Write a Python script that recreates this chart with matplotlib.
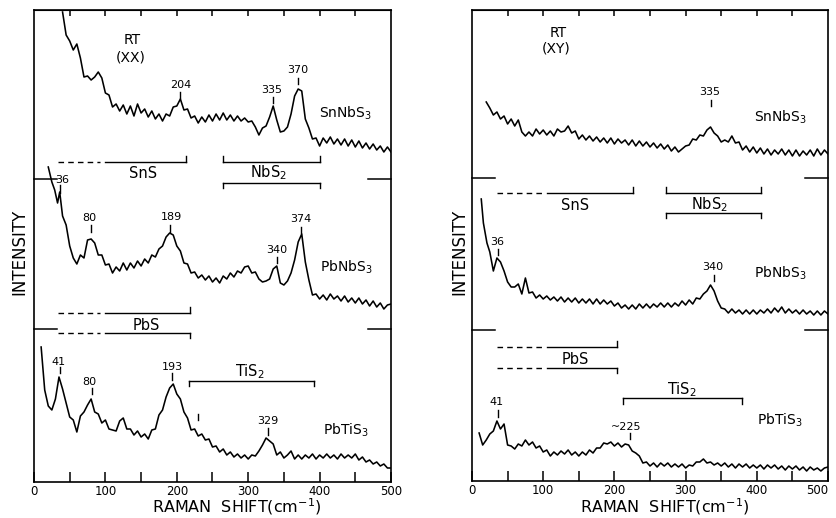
import numpy as np
import matplotlib
matplotlib.use("Agg")
import matplotlib.pyplot as plt

plt.rcParams['font.family'] = ['DejaVu Sans']
plt.rcParams['mathtext.default'] = 'regular'

# ---------------- data (Raman shift in cm^-1, intensity in arbitrary offset units) ----------
# Left panel: RT (XX)
shift_xx_snnbs3 = list(range(40, 501, 5))
int_xx_snnbs3 = [470, 447, 441, 432, 438, 424, 405, 406, 402, 405,
                 410, 404, 389, 387, 375, 378, 371, 377, 368, 376,
                 366, 378, 369, 373, 365, 371, 363, 368, 361, 368,
                 366, 375, 376, 383, 372, 373, 364, 366, 359, 365,
                 360, 367, 361, 368, 362, 369, 362, 367, 361, 366,
                 361, 364, 360, 361, 355, 347, 354, 356, 365, 376,
                 362, 350, 351, 355, 368, 386, 393, 391, 363, 354,
                 343, 344, 336, 344, 339, 345, 338, 343, 337, 343,
                 336, 342, 335, 341, 334, 339, 333, 338, 332, 336,
                 330, 335, 330]

shift_xx_pbnbs3 = [20, 25, 29, 33, 36, 40] + list(range(45, 501, 5))
int_xx_pbnbs3 = [315, 300, 292, 279, 290, 266, 257, 236, 224, 218, 227,
                 224, 242, 243, 239, 227, 227, 217, 218, 209, 215,
                 211, 219, 212, 219, 214, 221, 216, 223, 219, 227,
                 225, 233, 236, 245, 249, 247, 236, 231, 219, 218,
                 209, 210, 204, 207, 202, 206, 200, 204, 199, 206,
                 203, 209, 205, 211, 209, 215, 216, 209, 210, 203,
                 200, 201, 203, 213, 216, 199, 197, 201, 209, 222,
                 240, 248, 220, 202, 187, 188, 183, 187, 182, 188,
                 183, 186, 181, 186, 180, 184, 179, 184, 178, 182,
                 176, 181, 175, 179, 173, 177, 178]

shift_xx_pbtis3 = list(range(10, 501, 5))
int_xx_pbtis3 = [135, 92, 76, 72, 83, 105, 93, 79, 65, 62,
                 50, 66, 70, 77, 83, 70, 68, 59, 62, 53,
                 52, 51, 61, 64, 53, 53, 47, 51, 45, 48,
                 43, 52, 53, 67, 72, 85, 94, 98, 88, 83,
                 70, 64, 52, 53, 46, 48, 42, 43, 35, 36,
                 30, 33, 27, 30, 25, 28, 24, 27, 23, 27,
                 26, 31, 37, 44, 41, 38, 27, 30, 24, 27,
                 31, 23, 27, 23, 27, 24, 28, 23, 27, 24,
                 28, 24, 27, 23, 28, 24, 27, 24, 28, 22,
                 25, 20, 22, 18, 20, 16, 18, 14, 14]

# Right panel: RT (XY)
shift_xy_snnbs3 = list(range(20, 501, 5))
int_xy_snnbs3 = [379, 373, 366, 369, 362, 365, 357, 362, 355, 361,
                 349, 345, 349, 345, 352, 347, 351, 346, 350, 345,
                 352, 349, 350, 355, 348, 350, 342, 346, 341, 345,
                 340, 344, 339, 343, 338, 343, 337, 342, 338, 341,
                 336, 341, 335, 340, 335, 339, 334, 338, 333, 337,
                 332, 336, 330, 334, 329, 332, 335, 336, 342, 341,
                 346, 345, 351, 354, 348, 345, 339, 341, 339, 345,
                 338, 339, 331, 335, 329, 334, 328, 333, 327, 332,
                 326, 331, 327, 332, 326, 331, 325, 331, 325, 330,
                 326, 331, 325, 332, 326, 331, 327]

shift_xy_pbnbs3 = [13, 16, 21, 25, 30, 35, 40] + list(range(45, 501, 5))
int_xy_pbnbs3 = [282, 258, 238, 229, 210, 223, 219,
                 210, 199, 194, 194, 197, 187, 203, 188, 189, 183,
                 186, 182, 185, 181, 184, 180, 184, 179, 183, 179,
                 183, 178, 182, 178, 182, 177, 182, 177, 181, 177,
                 180, 175, 178, 173, 176, 172, 176, 172, 177, 173,
                 177, 173, 177, 174, 178, 174, 178, 174, 178, 175,
                 180, 176, 181, 177, 183, 182, 187, 190, 196, 190,
                 180, 173, 172, 168, 172, 168, 171, 167, 171, 167,
                 171, 167, 171, 168, 172, 168, 173, 169, 174, 168,
                 172, 168, 171, 167, 171, 167, 170, 166, 170, 166,
                 170, 167]

shift_xy_pbtis3 = list(range(10, 501, 5))
int_xy_pbtis3 = [48, 36, 41, 47, 50, 60, 52, 57, 36, 35,
                 32, 37, 35, 41, 36, 39, 33, 35, 29, 31,
                 25, 29, 26, 30, 27, 31, 26, 29, 25, 29,
                 26, 31, 28, 33, 33, 38, 37, 39, 35, 38,
                 34, 37, 36, 30, 28, 25, 18, 19, 15, 18,
                 14, 18, 15, 18, 14, 17, 14, 17, 13, 16,
                 15, 19, 19, 22, 18, 19, 16, 18, 15, 18,
                 14, 17, 13, 17, 14, 17, 13, 16, 13, 16,
                 12, 16, 13, 16, 12, 15, 11, 15, 12, 15,
                 11, 14, 10, 14, 11, 13, 10, 13, 14]

# peak labels
peaks_left = ["204", "335", "370", "36", "80", "189", "340", "374", "41", "80", "193", "329"]
peaks_right = ["335", "36", "340", "41", "~225"]
samples = ["SnNbS$_3$", "PbNbS$_3$", "PbTiS$_3$"]
xticks_major = [0, 100, 200, 300, 400, 500]

# ---------------- figure ----------------
W, H = 837, 518
fig = plt.figure(figsize=(W / 100, H / 100), dpi=100)

def make_ax(x0, x1, ytop, ybot):
    ax = fig.add_axes([x0 / W, (H - ybot) / H, (x1 - x0) / W, (ybot - ytop) / H])
    ax.set_xlim(0, 500)
    ax.set_ylim(0, ybot - ytop)
    ax.set_yticks([])
    ax.set_xticks(np.arange(0, 501, 50))
    ax.set_xticklabels([str(v) if v in xticks_major else '' for v in range(0, 501, 50)],
                       fontsize=8.5)
    ax.tick_params(axis='x', direction='in', length=7, width=1.1, pad=2)
    for s in ax.spines.values():
        s.set_linewidth(1.2)
    sec = ax.secondary_xaxis('top')
    sec.set_xticks(np.arange(50, 451, 50))
    sec.set_xticklabels([])
    sec.tick_params(direction='in', length=4, width=1.1)
    return ax

axL = make_ax(34, 391, 10, 482)
axR = make_ax(472, 828, 10, 481)
# keep the last right-panel tick label inside the figure
lastlab = axR.get_xticklabels()[-1]
lastlab.set_horizontalalignment('right')

lw = 1.15
kw = dict(color='black', lw=lw)
axL.plot(shift_xx_snnbs3, int_xx_snnbs3, **kw)
axL.plot(shift_xx_pbnbs3, int_xx_pbnbs3, **kw)
axL.plot(shift_xx_pbtis3, int_xx_pbtis3, **kw)
axR.plot(shift_xy_snnbs3, int_xy_snnbs3, **kw)
axR.plot(shift_xy_pbnbs3, int_xy_pbnbs3, **kw)
axR.plot(shift_xy_pbtis3, int_xy_pbtis3, **kw)

def side_marks(ax, ys):
    for y in ys:
        ax.plot([0, 32], [y, y], color='black', lw=1.1, clip_on=False)
        ax.plot([468, 500], [y, y], color='black', lw=1.1, clip_on=False)

side_marks(axL, [303, 153])
side_marks(axR, [303, 151])

def bracket(ax, x0, x1, y, tick, dashed_to=None, solid_from=None):
    bk = dict(color='black', lw=1.0)
    if dashed_to is not None:
        ax.plot([x0, dashed_to], [y, y], ls=(0, (4, 3)), **bk)
        ax.plot([solid_from, x1], [y, y], **bk)
    else:
        ax.plot([x0, x1], [y, y], **bk)
        ax.plot([x0, x0], [y, y + tick], **bk)
    ax.plot([x1, x1], [y, y + tick], **bk)

# left brackets
bracket(axL, 34, 213, 320, 6, dashed_to=92, solid_from=100)
bracket(axL, 265, 400, 320, 6)
bracket(axL, 265, 400, 299, -5)
bracket(axL, 34, 218, 169, 6, dashed_to=92, solid_from=100)
bracket(axL, 34, 218, 149, -5, dashed_to=92, solid_from=100)
bracket(axL, 217, 392, 101, -5)
tk = dict(ha='center', va='center', fontsize=10.5)
axL.text(153, 309, "SnS", **tk)
axL.text(329, 309, "NbS$_2$", **tk)
axL.text(158, 157, "PbS", **tk)
axL.text(303, 110, "TiS$_2$", **tk)

# right brackets
bracket(axR, 35, 226, 288, 6, dashed_to=100, solid_from=105)
bracket(axR, 272, 406, 288, 6)
bracket(axR, 272, 406, 268, -5)
bracket(axR, 35, 204, 134, 6, dashed_to=100, solid_from=105)
bracket(axR, 35, 204, 113, -5, dashed_to=100, solid_from=105)
bracket(axR, 212, 379, 83, -6)
axR.text(145, 276, "SnS", **tk)
axR.text(334, 276, "NbS$_2$", **tk)
axR.text(145, 122, "PbS", **tk)
axR.text(295, 91, "TiS$_2$", **tk)

# peak labels: (text_x, text_y, tick_x, tick_top, tick_bottom)
pl_left = [(206, 397, 204, 390, 384), (333, 392, 335, 385, 379), (370, 412, 370, 404, 398),
           (40, 302, 36, 297, 289), (78, 264, 80, 257, 250), (192, 265, 190, 257, 250),
           (340, 232, 340, 225, 219), (374, 263, 374, 255, 249), (35, 120, 36, 115, 109),
           (78, 100, 81, 94, 88), (194, 115, 193, 109, 102), (327, 61, 328, 54, 47)]
for t, (tx, ty, kx, k0, k1) in zip(peaks_left, pl_left):
    axL.text(tx, ty, t, ha='center', va='center', fontsize=8)
    axL.plot([kx, kx], [k0, k1], color='black', lw=1.0)
axL.plot([230, 230], [68, 62], color='black', lw=1.0)

pl_right = [(334, 389, 336, 381, 375), (35, 239, 36, 232, 226), (338, 214, 340, 206, 200),
            (34, 79, 36, 71, 64), (216, 54, 222, 48, 42)]
for t, (tx, ty, kx, k0, k1) in zip(peaks_right, pl_right):
    axR.text(tx, ty, t, ha='center', va='center', fontsize=8)
    axR.plot([kx, kx], [k0, k1], color='black', lw=1.0)

sk = dict(ha='center', va='center', fontsize=10)
for t, y in zip(samples, [369, 215, 52]):
    axL.text(437, y, t, **sk)
for t, y in zip(samples, [364, 208, 61]):
    axR.text(433, y, t, **sk)

axL.text(138, 442, "RT", **sk)
axL.text(136, 425, "(XX)", **sk)
axR.text(121, 448, "RT", **sk)
axR.text(118, 433, "(XY)", **sk)

fig.text(19 / W, 1 - 252 / H, "INTENSITY", rotation=90, ha='center', va='center', fontsize=12)
fig.text(459 / W, 1 - 252 / H, "INTENSITY", rotation=90, ha='center', va='center', fontsize=12)
fig.text(237 / W, 1 / H, "RAMAN  SHIFT(cm$^{-1}$)", ha='center', va='bottom', fontsize=11.5)
fig.text(665 / W, 1 / H, "RAMAN  SHIFT(cm$^{-1}$)", ha='center', va='bottom', fontsize=11.5)

fig.savefig("out.png", dpi=100)
